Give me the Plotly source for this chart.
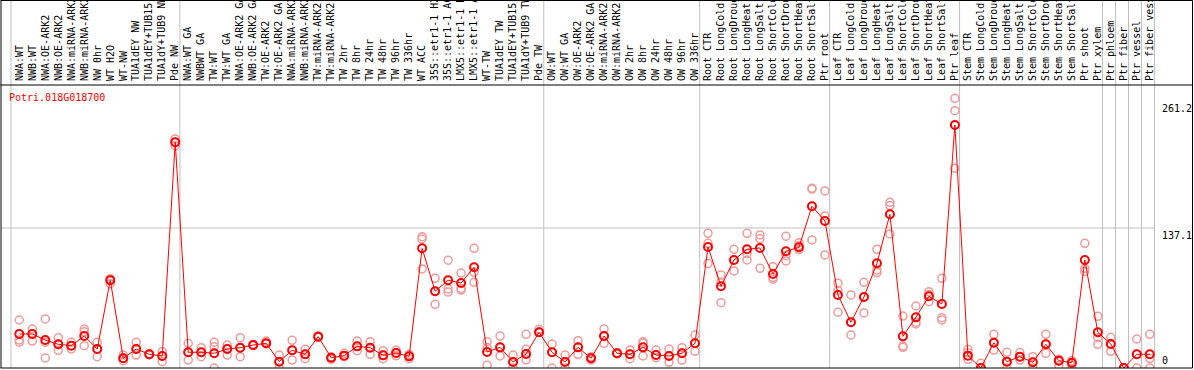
import plotly.graph_objects as go

gene = "Potri.018G018700"

labels = [
    "NWA:WT", "NWB:WT", "NWA:OE-ARK2", "NWB:OE-ARK2", "NWA:miRNA-ARK2", "NWB:miRNA-ARK2",
    "NW 0hr", "WT H2O", "WT-NW", "TUA1dEY NW", "TUA1dEY+TUB15 NW", "TUA1dY+TUB9 NW", "Pde NW",
    "NWA:WT GA", "NWBWT GA", "TW:WT", "TW:WT GA", "NWA:OE-ARK2 GA", "NWB:OE-ARK2 GA",
    "TW:OE-ARK2", "TW:OE-ARK2 GA", "NWA:miRNA-ARK2", "NWB:miRNA-ARK2", "TW:miRNA-ARK2",
    "TW:miRNA-ARK2", "TW 2hr", "TW 8hr", "TW 24hr", "TW 48hr", "TW 96hr", "TW 336hr",
    "WT ACC", "35S::etr1-1 H2O", "35S::etr1-1 ACC", "LMX5::etr1-1 H2O", "LMX5::etr1-1 ACC",
    "WT-TW", "TUA1dEY TW", "TUA1dEY+TUB15 TW", "TUA1dY+TUB9 TW", "Pde TW",
    "OW:WT", "OW:WT GA", "OW:OE-ARK2", "OW:OE-ARK2 GA", "OW:miRNA-ARK2", "OW:miRNA-ARK2",
    "OW 2hr", "OW 8hr", "OW 24hr", "OW 48hr", "OW 96hr", "OW 336hr",
    "Root CTR", "Root LongCold", "Root LongDrought", "Root LongHeat", "Root LongSalt",
    "Root ShortCold", "Root ShortDrought", "Root ShortHeat", "Root ShortSalt", "Ptr root",
    "Leaf CTR", "Leaf LongCold", "Leaf LongDrought", "Leaf LongHeat", "Leaf LongSalt",
    "Leaf ShortCold", "Leaf ShortDrought", "Leaf ShortHeat", "Leaf ShortSalt", "Ptr leaf",
    "Stem CTR", "Stem LongCold", "Stem LongDrought", "Stem LongHeat", "Stem LongSalt",
    "Stem ShortCold", "Stem ShortDrought", "Stem ShortHeat", "Stem ShortSalt", "Ptr shoot",
    "Ptr xylem", "Ptr phloem", "Ptr fiber", "Ptr vessel", "Ptr fiber vessel",
]

mean_vals = [
    33.3, 33.3, 27.4, 23.2, 21.9, 31.3, 18.6, 85.9, 9.5, 18.6, 13.4, 11.8, 221.0,
    15.4, 15.4, 14.4, 18.6, 19.9, 22.5, 24.2, 6.2, 17.3, 13.4, 30.7, 10.1, 12.1, 21.2,
    19.9, 12.4, 14.7, 11.4, 117.2, 75.1, 85.9, 83.3, 98.6, 15.7, 20.2, 5.9, 13.7, 35.0,
    15.4, 5.9, 20.2, 9.5, 31.3, 14.4, 13.4, 20.2, 12.7, 11.8, 14.4, 24.2,
    118.5, 80.0, 105.8, 116.2, 117.5, 92.1, 114.3, 118.2, 158.4, 144.0,
    71.5, 44.8, 69.5, 102.5, 150.5, 31.0, 49.6, 70.2, 62.7, 238.0,
    12.1, 0.0, 24.8, 6.2, 11.1, 5.6, 23.2, 7.2, 5.2, 105.8,
    35.0, 23.5, 0.0, 13.4, 13.4,
]

rep_a = [
    47.0, 38.2, 48.0, 29.7, 25.2, 38.2, 25.2, 87.5, 12.7, 25.2, 14.0, 16.0, 224.3,
    24.2, 19.9, 25.2, 22.5, 29.7, 23.0, 26.4, 12.7, 27.1, 18.3, 31.5, 11.0, 14.4, 26.4,
    25.8, 17.0, 17.3, 13.4, 128.6, 87.8, 105.5, 93.0, 117.2, 25.8, 31.3, 12.7, 33.0, 37.9,
    23.5, 12.7, 26.8, 11.1, 38.2, 15.0, 17.6, 25.8, 17.6, 18.6, 19.9, 32.3,
    131.9, 91.1, 116.2, 131.9, 130.3, 99.2, 129.0, 122.7, 176.0, 173.4,
    83.0, 71.5, 83.9, 116.2, 162.3, 50.9, 60.7, 74.7, 87.8, 264.1,
    18.3, 4.6, 33.0, 15.4, 15.1, 11.1, 33.0, 8.5, 7.2, 122.1,
    50.6, 30.0, 0.0, 28.4, 33.0,
]

rep_b = [
    27.4, 33.3, 25.2, 17.3, 18.6, 35.6, 18.6, 85.9, 9.5, 18.6, 13.4, 11.8, 221.0,
    15.4, 15.4, 20.9, 18.6, 19.9, 22.5, 24.2, 6.2, 17.3, 13.4, 30.7, 10.1, 12.1, 21.2,
    19.9, 12.4, 14.7, 11.4, 126.3, 75.1, 77.4, 77.9, 93.7, 20.0, 20.2, 5.9, 18.3, 35.0,
    15.4, 5.9, 20.2, 9.5, 31.3, 14.4, 13.4, 24.2, 12.7, 11.8, 14.4, 24.2,
    122.1, 84.0, 105.8, 112.0, 126.5, 88.5, 110.0, 120.0, 175.2, 148.9,
    76.0, 44.8, 69.5, 96.0, 159.0, 21.5, 44.8, 72.0, 49.3, 252.0,
    15.0, 0.0, 24.8, 6.2, 11.1, 5.6, 23.2, 7.2, 5.2, 97.6,
    29.7, 23.5, 0.0, 13.4, 9.5,
]

rep_c = [
    25.2, 26.4, 9.8, 23.2, 21.9, 21.9, 11.1, 82.6, 7.2, 12.7, 12.8, 6.2, 217.7,
    7.8, 11.1, 0.0, 12.7, 11.1, 22.0, 23.5, 0.0, 7.8, 9.1, 30.0, 8.5, 11.1, 17.0,
    13.4, 9.1, 12.1, 9.1, 97.0, 62.4, 74.4, 76.3, 83.9, 2.6, 11.8, 0.0, 8.0, 35.0,
    0.0, 0.0, 13.4, 7.8, 24.2, 13.8, 9.1, 11.8, 10.1, 5.6, 7.8, 16.3,
    102.2, 64.0, 95.0, 105.8, 97.6, 86.9, 104.8, 116.0, 125.4, 110.7,
    54.6, 32.3, 53.9, 93.4, 131.2, 20.2, 43.1, 64.9, 47.0, 195.6,
    8.5, 0.0, 17.6, 0.0, 7.8, 0.0, 14.4, 2.6, 2.6, 94.4,
    23.2, 16.3, 0.0, 0.0, 0.0,
]

# column indices that start a new group (vertical separator drawn before them)
group_starts = [0, 13, 41, 53, 63, 73, 84, 85, 86, 87, 88]

y_ticks = [0, 137.1, 261.2]
y_tick_text = ["0", "137.1", "261.2"]

FONT = "DejaVu Sans Mono"
idx = list(range(len(labels)))

fig = go.Figure()

for reps in (rep_a, rep_b, rep_c):
    fig.add_trace(go.Scatter(
        x=idx, y=reps, mode="markers",
        marker=dict(symbol="circle-open", size=8, color="#f09a9a", line=dict(width=1.5)),
        showlegend=False, hoverinfo="skip",
    ))

fig.add_trace(go.Scatter(
    x=idx, y=mean_vals, mode="lines+markers",
    line=dict(color="#ff0000", width=1),
    marker=dict(symbol="circle-open", size=8, color="#ff0000", line=dict(width=2)),
    showlegend=False,
))

W, H = 1194, 370
ml, mr, mt, mb = 1, 39, 85, 2
pw = W - ml - mr
ph = H - mt - mb
top_paper = (H - mb - 0.5) / ph
left_paper = -0.5 / pw
right_paper = (W - 1.5 - ml) / pw

shapes = []
for s in group_starts:
    shapes.append(dict(type="line", xref="x", yref="paper", x0=s - 0.64, x1=s - 0.64,
                       y0=0, y1=top_paper + 0.01, line=dict(color="#c0c0c0", width=1), layer="below"))
shapes.append(dict(type="line", xref="paper", yref="y", x0=0, x1=1, y0=y_ticks[1], y1=y_ticks[1],
                   line=dict(color="#c0c0c0", width=1), layer="below"))
black = dict(color="black", width=1)
shapes += [
    dict(type="line", xref="paper", yref="paper", x0=left_paper, x1=right_paper, y0=1, y1=1, line=black),
    dict(type="line", xref="paper", yref="paper", x0=left_paper, x1=right_paper, y0=0, y1=0, line=black),
    dict(type="line", xref="paper", yref="paper", x0=left_paper, x1=right_paper, y0=top_paper, y1=top_paper, line=black),
    dict(type="line", xref="paper", yref="paper", x0=0, x1=0, y0=0, y1=top_paper, line=black),
    dict(type="line", xref="paper", yref="paper", x0=right_paper, x1=right_paper, y0=0, y1=top_paper, line=black),
]

annotations = [dict(text=gene, xref="paper", yref="paper", x=0, y=1, xanchor="left", yanchor="top",
                    xshift=6, yshift=-5, showarrow=False, font=dict(family=FONT, size=10, color="#ff0000"))]
for v, t in zip(y_ticks, y_tick_text):
    annotations.append(dict(text=t, xref="paper", yref="y", x=1, y=v, xanchor="left",
                            yanchor="bottom" if v == 0 else "top", xshift=5, showarrow=False,
                            font=dict(family=FONT, size=10, color="black")))

fig.update_layout(
    width=W, height=H,
    margin=dict(l=ml, r=mr, t=mt, b=mb, autoexpand=False),
    paper_bgcolor="white", plot_bgcolor="white",
    showlegend=False,
    shapes=shapes, annotations=annotations,
    xaxis=dict(range=[-1.408, 87.4], side="top", tickmode="array", tickvals=idx, ticktext=labels,
               tickangle=-90, ticks="", showgrid=False, zeroline=False, showline=False,
               ticklabelstandoff=3,
               tickfont=dict(family=FONT, size=10, color="black"), automargin=False, fixedrange=True),
    yaxis=dict(range=[0, 277.1], showticklabels=False, ticks="", showgrid=False, zeroline=False,
               showline=False, automargin=False, fixedrange=True),
)

fig.write_html("out.html", config={"displayModeBar": False},
               post_script="document.body.style.margin='0px';document.body.style.overflow='hidden';")
